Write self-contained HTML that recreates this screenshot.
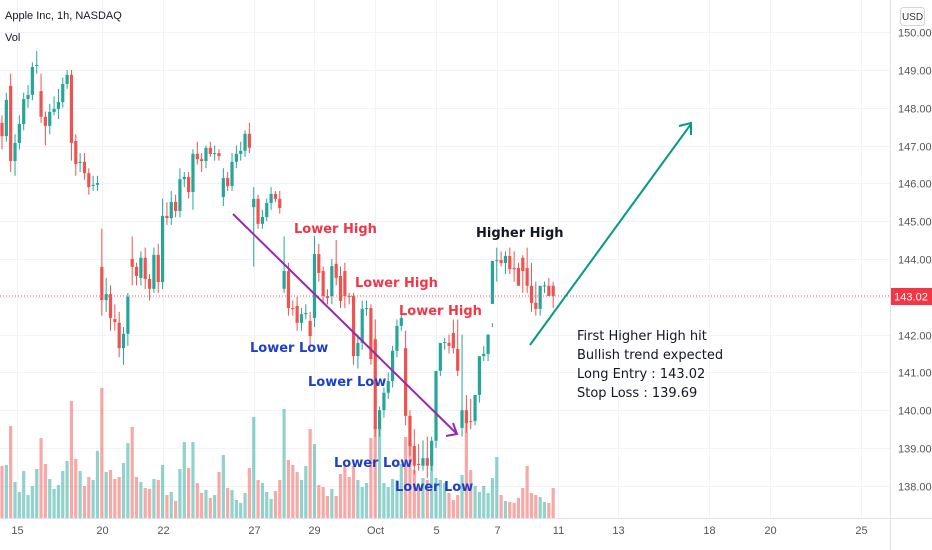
<!DOCTYPE html>
<html><head><meta charset="utf-8"><style>
body{margin:0;background:#fff;font-family:"Liberation Sans",sans-serif;}
svg{display:block}
.ann{font-family:"DejaVu Sans","Liberation Sans",sans-serif;font-size:13px;}
</style></head><body>
<svg id="c" width="932" height="550">
<rect width="932" height="550" fill="#fff"/>
<g id="grid"></g>
<g id="vols"></g>
<g id="candles"></g>
<line x1="0" y1="296" x2="890" y2="296" stroke="#ef5350" stroke-width="1" stroke-dasharray="1,2"/>
<line x1="890.5" y1="0" x2="890.5" y2="550" stroke="#e0e3eb"/>
<line x1="0" y1="518.5" x2="932" y2="518.5" stroke="#e0e3eb"/>
<g id="yaxis"></g>
<g id="xaxis"></g>
<rect x="891" y="288" width="41" height="17" fill="#f23645"/>
<text x="911" y="300.5" fill="#fff" font-size="11" text-anchor="middle">143.02</text>
<rect x="900.5" y="7.5" width="24" height="18" rx="3" fill="#fff" stroke="#d1d4dc"/>
<text x="912.5" y="20" fill="#333" font-size="10" text-anchor="middle">USD</text>
<text x="5" y="19" fill="#131722" font-size="11">Apple Inc, 1h, NASDAQ</text>
<text x="5" y="41" fill="#131722" font-size="11">Vol</text>
<line x1="233" y1="214" x2="456" y2="433" stroke="#9c27b0" stroke-width="2"/>
<polyline points="446,436 457,434 453,423" fill="none" stroke="#9c27b0" stroke-width="2"/>
<line x1="530" y1="345" x2="691" y2="124" stroke="#089981" stroke-width="2"/>
<polyline points="679,126 691,123 691,135" fill="none" stroke="#089981" stroke-width="2"/>
<g class="ann" font-weight="bold">
<text x="294" y="233" fill="#f23645">Lower High</text>
<text x="355" y="287" fill="#f23645">Lower High</text>
<text x="399" y="315" fill="#f23645">Lower High</text>
<text x="476" y="237" fill="#131722">Higher High</text>
<text x="250" y="352" fill="#1e40c8">Lower Low</text>
<text x="308" y="386" fill="#1e40c8">Lower Low</text>
<text x="334" y="467" fill="#1e40c8">Lower Low</text>
<text x="395" y="491" fill="#1e40c8">Lower Low</text>
</g>
<g class="ann" fill="#131722">
<text x="577" y="340">First Higher High hit</text>
<text x="577" y="359">Bullish trend expected</text>
<text x="577" y="378">Long Entry : 143.02</text>
<text x="577" y="397">Stop Loss : 139.69</text>
</g>
</svg>
<script>
const opens=[147.60,147.25,148.58,146.59,147.07,147.57,148.23,148.34,149.11,148.44,147.76,147.52,147.89,147.97,148.15,148.63,148.87,147.12,146.54,146.57,146.27,145.93,145.96,143.79,142.91,143.07,142.41,142.31,141.64,142.02,144.00,143.79,143.50,144.03,143.47,143.21,144.11,143.39,145.14,145.08,145.51,145.27,146.11,146.17,145.77,146.78,146.64,146.59,146.94,146.78,146.80,145.64,146.14,145.93,146.57,146.78,146.86,147.31,145.37,145.59,144.93,145.11,145.48,145.72,145.59,143.21,143.68,142.70,142.76,142.31,142.54,142.36,142.44,144.13,143.68,143.02,143.02,143.87,143.55,143.68,143.02,143.02,141.43,141.78,142.68,142.70,141.88,139.50,140.00,140.46,140.77,141.57,142.23,141.64,139.85,139.05,138.58,138.53,138.73,138.53,139.19,141.04,141.78,141.78,142.04,141.62,139.53,140.00,139.71,139.71,140.40,141.43,141.49,142.81,143.95,143.97,143.89,144.08,143.76,143.76,144.03,143.76,143.29,142.84,142.68,143.29,143.29,143.29];
const closes=[147.25,148.21,146.59,147.07,147.57,148.23,148.34,149.08,149.13,147.76,147.52,147.89,147.97,148.15,148.63,148.87,147.07,146.51,146.57,146.27,145.90,145.96,146.01,142.91,143.07,142.44,142.33,141.64,142.02,143.00,143.79,143.55,144.03,143.47,143.21,144.11,143.39,145.14,145.08,145.51,145.27,146.11,146.17,145.77,146.78,146.64,146.59,146.94,146.78,146.80,146.72,146.14,145.93,146.57,146.78,146.86,147.31,146.94,145.59,144.93,145.11,145.48,145.72,145.59,145.35,143.68,142.70,142.68,142.31,142.54,142.57,141.96,144.13,143.63,143.02,142.97,143.81,143.50,142.89,143.02,143.00,141.43,141.78,142.68,142.70,141.35,139.50,140.00,140.46,140.77,141.57,142.23,142.44,139.85,139.05,138.53,138.55,138.73,138.53,139.19,141.04,141.78,141.80,141.70,141.64,141.04,140.00,139.66,139.69,140.40,141.43,141.49,142.00,143.95,143.97,143.89,144.08,143.73,143.73,143.29,143.68,143.29,142.84,142.68,143.29,143.30,143.02,143.02];
const highs=[147.8,148.4,148.9,147.3,147.8,148.4,148.6,149.2,149.5,148.9,147.9,148.1,148.3,148.5,148.8,149.0,149.0,147.3,146.8,146.8,146.4,146.2,146.2,144.8,143.5,143.3,142.8,142.6,142.2,143.1,144.6,143.9,144.2,144.3,143.6,144.3,144.4,145.6,145.5,145.8,145.7,146.4,146.3,146.3,146.9,147.1,146.8,147.0,147.1,147.0,146.9,146.4,146.3,146.8,147.0,147.1,147.4,147.6,145.9,145.7,145.3,145.6,145.9,145.8,145.8,144.6,143.9,142.9,143.0,142.7,142.8,142.6,144.6,144.4,143.8,143.2,144.0,144.5,143.8,143.9,143.1,143.1,142.0,142.9,142.9,142.8,142.4,140.1,140.6,141.0,141.7,142.4,142.7,142.1,140.0,139.5,139.1,139.2,139.3,139.3,139.4,141.2,141.9,142.0,142.4,142.4,142.0,140.4,140.3,139.9,140.5,141.7,141.7,142.3,144.3,144.2,144.2,144.3,144.2,143.9,144.1,144.3,143.9,143.4,143.1,143.4,143.5,143.4];
const lows=[146.9,147.1,146.3,146.2,146.9,147.4,148.0,148.2,148.9,147.6,147.0,147.3,147.8,147.7,148.0,148.5,146.6,146.2,146.3,146.1,145.7,145.8,145.8,142.5,142.6,142.1,142.1,141.4,141.2,141.7,143.3,143.3,143.3,143.2,142.9,143.1,143.1,143.2,144.9,144.9,145.1,145.1,145.9,145.6,145.3,146.5,146.3,146.4,146.7,146.6,146.6,145.4,145.8,145.8,146.4,146.6,146.7,146.8,143.8,144.8,144.8,145.0,145.3,145.5,145.2,143.1,142.5,142.5,142.1,142.1,142.4,141.7,142.2,143.4,142.8,142.8,142.8,143.3,142.7,142.7,142.8,141.2,141.1,141.6,142.5,141.2,139.3,139.3,139.8,140.3,140.6,141.4,142.1,139.6,138.8,138.3,138.4,138.4,138.2,138.4,139.0,140.9,141.6,141.5,141.5,140.9,139.3,139.4,139.5,139.6,140.2,141.3,141.3,142.2,143.4,143.8,143.6,143.6,143.4,143.4,143.1,143.1,142.6,142.5,142.5,143.1,143.1,142.7];
const volumes=[52,53,92,36,26,47,23,32,49,80,54,39,29,33,47,57,117,59,47,32,41,38,67,130,46,48,39,41,55,75,91,41,36,30,29,39,38,53,23,26,17,49,76,50,76,35,25,28,20,23,46,63,30,28,18,15,25,50,101,38,35,26,19,27,38,109,58,53,46,38,52,89,74,33,31,22,29,22,44,52,41,52,38,31,35,80,90,89,35,31,39,38,54,81,75,48,31,40,38,58,40,38,35,25,18,23,43,98,48,32,26,32,25,40,61,23,17,16,15,20,30,52,25,23,21,16,15,30];
const priceTicks=[138,139,140,141,142,143,144,145,146,147,148,149,150];
const dateLabels=["15","20","22","27","29","Oct","5","7","11","13","18","20","25"];
const dateBarIndex=[2,23,37,58,72,86,100,114,128,142,163,177,198];

const NS="http://www.w3.org/2000/svg";
function mk(tag,attrs,parent){const e=document.createElementNS(NS,tag);for(const k in attrs)e.setAttribute(k,attrs[k]);parent.appendChild(e);return e;}
function yOf(p){return 296-(p-143.02)*37.8;}
function xOf(i){return 2+i*4.34;}
function vY(v){return 518-v;}
const G=document.getElementById('grid'),V=document.getElementById('vols'),C=document.getElementById('candles'),YA=document.getElementById('yaxis'),XA=document.getElementById('xaxis');
priceTicks.forEach(p=>{
  const y=Math.round(yOf(p))+0.5;
  const l=mk('line',{x1:0,x2:890,y1:y,y2:y,stroke:'#f0f3fa'},G);
  
  
  const t=mk('text',{x:898,y:y+4,'font-size':11,fill:'#555'},YA);
  t.textContent=p.toFixed(2);
  
  
});
dateLabels.forEach((d,k)=>{
  const x=Math.round(xOf(dateBarIndex[k])+ (k==0?6:0))+0.5;
  const l=mk('line',{x1:x,x2:x,y1:0,y2:518,stroke:'#f0f3fa'},G);
  
  
  const t=mk('text',{x:x,y:534,'font-size':11,fill:'#555','text-anchor':'middle'},XA);
  t.textContent=d;
  
  
});
opens.forEach((o,i)=>{
  const c=closes[i],up=c>=o,x=xOf(i);
  const col=up?'#26a69a':'#ef5350';
  const vb=mk('rect',{x:x-1.6,y:vY(volumes[i]),width:3.2,height:volumes[i],fill:up?'rgba(38,166,154,0.5)':'rgba(239,83,80,0.5)'},V);
  
  
  const w=mk('line',{x1:x,x2:x,y1:yOf(highs[i]),y2:yOf(lows[i]),stroke:col,'stroke-width':1},C);
  
  
  const top=yOf(Math.max(o,c)),h=Math.max(1,yOf(Math.min(o,c))-top);
  const b=mk('rect',{x:x-1.6,y:top,width:3.2,height:h,fill:col},C);
  
  
});
</script>
</body></html>
